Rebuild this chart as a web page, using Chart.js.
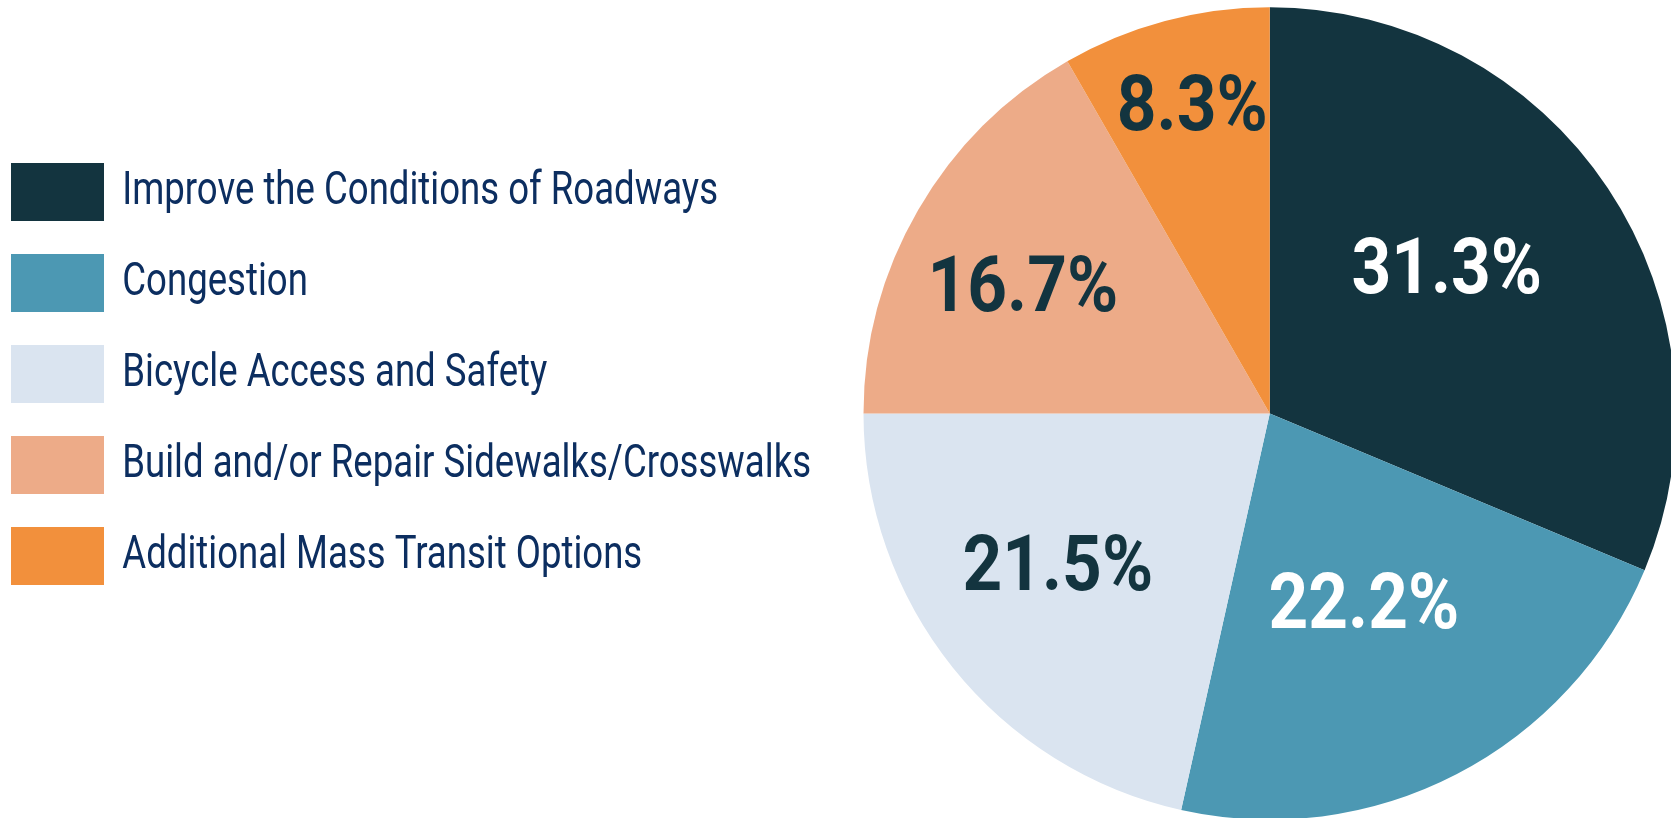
<!DOCTYPE html>
<html>
<head>
<meta charset="utf-8">
<script src="https://cdn.jsdelivr.net/npm/chart.js@4"></script>
<style>
  html, body { margin: 0; padding: 0; background: #fff; overflow: hidden; }
  #wrap { position: absolute; left: 0; top: 0; width: 1676px; height: 820px; }
</style>
</head>
<body>
<div id="wrap"><canvas id="chartPriorities"></canvas></div>
<script>
// categories and shares (percent)
const categories = [
  'Improve the Conditions of Roadways',
  'Congestion',
  'Bicycle Access and Safety',
  'Build and/or Repair Sidewalks/Crosswalks',
  'Additional Mass Transit Options'
];
const shares = [31.3, 22.2, 21.5, 16.7, 8.3];

const sliceColors = ['#13343f', '#4c98b3', '#dae4f0', '#edab88', '#f2903c'];
const labelColors = ['#ffffff', '#ffffff', '#13343f', '#13343f', '#13343f'];
// where each % label sits: [fraction of radius, angle nudge in degrees]
const labelPlace = [[0.555, -4.6], [0.533, 1.6], [0.649, 2.2], [0.677, -3.9], [0.77, 0.6]];

const FONT = "Roboto, 'DejaVu Sans Condensed', sans-serif";
// no condensed face installed, so squeeze text sideways
const LEGEND_SQUEEZE = 0.795;
const LABEL_SQUEEZE = 0.9;
const LEGEND_PAD = 33;
const PAD_LEFT = 11 / LEGEND_SQUEEZE - LEGEND_PAD;
const LEGEND_WIDTH = 863.5 - PAD_LEFT;

// fixed legend column width + horizontal squeeze of its contents
const legendFit = {
  id: 'legendFit',
  beforeLayout(chart) {
    const lg = chart.legend;
    if (lg && !lg._fixed) {
      const fit = lg.fit;
      const draw = lg._draw;
      lg.fit = function () {
        fit.call(this);
        this.width = LEGEND_WIDTH;
      };
      lg._draw = function () {
        this.ctx.save();
        this.ctx.scale(LEGEND_SQUEEZE, 1);
        draw.call(this);
        this.ctx.restore();
      };
      lg._fixed = true;
    }
  }
};

const sliceLabels = {
  id: 'sliceLabels',
  afterDatasetsDraw(chart) {
    const ctx = chart.ctx;
    const meta = chart.getDatasetMeta(0);
    meta.data.forEach((arc, i) => {
      const p = arc.getProps(['x', 'y', 'startAngle', 'endAngle', 'outerRadius'], true);
      const a = (p.startAngle + p.endAngle) / 2 + labelPlace[i][1] * Math.PI / 180;
      const r = p.outerRadius * labelPlace[i][0];
      ctx.save();
      ctx.translate(p.x + Math.cos(a) * r, p.y + Math.sin(a) * r);
      ctx.scale(LABEL_SQUEEZE, 1);
      ctx.font = 'bold 77px ' + FONT;
      ctx.textAlign = 'center';
      ctx.textBaseline = 'middle';
      ctx.fillStyle = labelColors[i];
      ctx.fillText(shares[i].toFixed(1) + '%', 0, 0);
      ctx.restore();
    });
  }
};

new Chart(document.getElementById('chartPriorities'), {
  type: 'pie',
  data: {
    labels: categories,
    datasets: [{
      data: shares,
      backgroundColor: sliceColors,
      borderWidth: 0,
      hoverOffset: 0
    }]
  },
  options: {
    responsive: true,
    maintainAspectRatio: false,
    animation: false,
    events: [],
    layout: {
      padding: { left: PAD_LEFT, top: 7, right: 0, bottom: 0 }
    },
    plugins: {
      tooltip: { enabled: false },
      legend: {
        display: true,
        position: 'left',
        align: 'start',
        title: {
          display: true,
          text: '',
          font: { size: 10, lineHeight: 1 },
          padding: { top: 113, bottom: 0 }
        },
        labels: {
          boxWidth: 93 / LEGEND_SQUEEZE,
          boxHeight: 58,
          padding: LEGEND_PAD,
          color: '#0c2e60',
          font: { family: FONT, size: 46 }
        }
      }
    }
  },
  plugins: [legendFit, sliceLabels]
});
</script>
</body>
</html>
